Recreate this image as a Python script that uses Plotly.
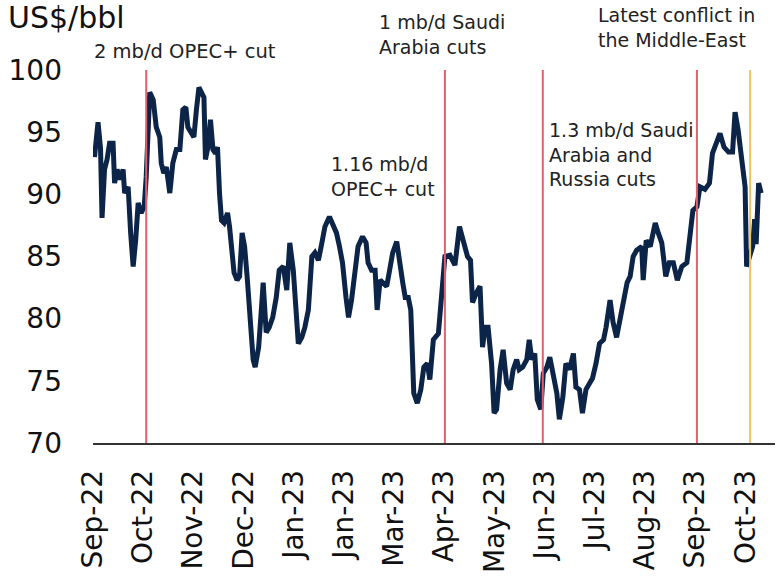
import plotly.graph_objects as go

# ---- data (x in months since Sep-22, y in US$/bbl) ----
x_month = [0.03, 0.10, 0.15, 0.18, 0.23, 0.28, 0.33, 0.40, 0.43, 0.48, 0.53, 0.60, 0.63, 0.70, 0.75,
           0.80, 0.85, 0.90, 0.96, 1.02, 1.06, 1.13, 1.20, 1.26, 1.33, 1.36, 1.41, 1.46, 1.53, 1.59,
           1.66, 1.73, 1.79, 1.85, 1.89, 1.96, 2.01, 2.06, 2.11, 2.16, 2.21, 2.24, 2.29, 2.34, 2.39,
           2.44, 2.48, 2.52, 2.56, 2.61, 2.68, 2.72, 2.77, 2.81, 2.87, 2.92, 2.97, 3.02, 3.07, 3.14,
           3.19, 3.23, 3.30, 3.35, 3.39, 3.45, 3.51, 3.58, 3.65, 3.71, 3.79, 3.86, 3.92, 3.99, 4.04,
           4.09, 4.16, 4.22, 4.29, 4.36, 4.42, 4.49, 4.56, 4.62, 4.71, 4.79, 4.85, 4.91, 4.97, 5.04,
           5.09, 5.15, 5.22, 5.28, 5.37, 5.44, 5.48, 5.55, 5.62, 5.66, 5.72, 5.78, 5.85, 5.90, 5.97,
           6.05, 6.10, 6.17, 6.22, 6.28, 6.33, 6.37, 6.39, 6.46, 6.53, 6.59, 6.66, 6.71, 6.78, 6.88,
           6.95, 7.01, 7.11, 7.21, 7.30, 7.38, 7.46, 7.52, 7.56, 7.64, 7.71, 7.76, 7.81, 7.87, 7.94,
           7.99, 8.04, 8.11, 8.17, 8.24, 8.31, 8.37, 8.44, 8.49, 8.56, 8.64, 8.69, 8.74, 8.80, 8.85,
           8.92, 8.97, 9.04, 9.10, 9.17, 9.24, 9.29, 9.36, 9.42, 9.49, 9.57, 9.62, 9.69, 9.75, 9.82,
           9.89, 9.95, 10.02, 10.09, 10.17, 10.22, 10.30, 10.36, 10.43, 10.52, 10.58, 10.64, 10.70,
           10.76, 10.83, 10.93, 10.96, 11.02, 11.10, 11.20, 11.26, 11.33, 11.41, 11.48, 11.56, 11.64,
           11.73, 11.83, 11.89, 11.95, 12.03, 12.09, 12.19, 12.28, 12.34, 12.41, 12.49, 12.57, 12.66,
           12.74, 12.79, 12.85, 12.92, 12.99, 13.02, 13.07, 13.14, 13.18, 13.21, 13.26, 13.31]

price = [93.0, 95.8, 93.7, 88.1, 92.0, 92.8, 94.1, 94.1, 90.9, 92.0, 91.2, 92.0, 90.1, 90.6, 86.9,
         84.2, 86.3, 89.3, 88.5, 89.0, 91.4, 98.2, 97.6, 95.4, 94.6, 92.5, 91.7, 92.2, 90.1, 92.5,
         93.6, 93.6, 96.8, 97.0, 95.4, 94.9, 94.6, 96.8, 98.6, 98.2, 97.8, 92.8, 93.8, 96.0, 93.6,
         93.3, 93.8, 90.1, 87.9, 87.7, 88.5, 87.4, 85.3, 83.7, 83.1, 83.4, 86.9, 85.8, 83.4, 80.0,
         76.7, 76.1, 77.7, 80.5, 82.9, 78.9, 79.3, 80.1, 81.7, 83.9, 84.2, 82.3, 86.1, 83.9, 80.7,
         78.0, 78.5, 79.3, 80.7, 85.0, 85.3, 84.7, 86.1, 87.4, 88.2, 87.3, 86.9, 85.8, 84.5, 81.7,
         80.1, 81.5, 83.7, 85.8, 86.6, 86.1, 84.5, 83.9, 83.9, 80.7, 83.1, 82.9, 82.6, 83.7, 85.3,
         86.2, 84.5, 82.9, 81.7, 81.7, 80.7, 76.9, 74.0, 73.2, 74.3, 76.1, 76.4, 75.1, 78.3, 78.8,
         82.6, 85.0, 85.1, 84.3, 87.4, 86.3, 85.0, 84.7, 81.3, 82.1, 82.6, 77.7, 79.3, 79.3, 76.4,
         72.4, 72.7, 75.9, 77.5, 74.8, 74.3, 75.9, 76.7, 75.9, 76.1, 76.7, 78.3, 76.7, 77.2, 73.5,
         72.7, 75.6, 76.1, 76.9, 75.6, 74.0, 71.9, 73.7, 76.4, 75.9, 77.2, 74.5, 74.3, 72.4, 74.3,
         74.8, 75.2, 76.4, 78.0, 78.3, 79.3, 81.5, 79.7, 78.5, 80.4, 81.5, 82.9, 83.4,
         85.0, 85.5, 85.8, 83.1, 86.3, 85.8, 87.7, 86.9, 86.1, 83.4, 84.5, 84.5, 83.1,
         84.2, 84.5, 86.6, 88.7, 89.0, 90.6, 90.4, 90.9, 93.3, 94.1, 94.9, 93.8, 93.4,
         93.4, 96.6, 95.2, 93.0, 90.6, 84.2, 85.0, 85.8, 88.0, 86.0, 90.9, 90.1]

tick_pos = list(range(14))
tick_labels = ["Sep-22", "Oct-22", "Nov-22", "Dec-22", "Jan-23", "Jan-23", "Mar-23",
               "Apr-23", "May-23", "Jun-23", "Jul-23", "Aug-23", "Sep-23", "Oct-23"]

event_x = [1.06, 7.01, 8.96, 12.03, 13.09]
event_colors = ["#e2606e", "#e2606e", "#e2606e", "#e2606e", "#f2c35c"]

FONT = "DejaVu Sans"
W, H = 776, 583
L, R, T, B = 93, 775, 70, 443


def px(xp):
    return (xp - L) / (R - L)


def py(yp):
    return (B - yp) / (B - T)


fig = go.Figure()
fig.add_trace(go.Scatter(x=x_month, y=price, mode="lines",
                         line=dict(color="#0b2447", width=5, shape="linear"),
                         hoverinfo="skip", showlegend=False))

for ex, col in zip(event_x, event_colors):
    fig.add_shape(type="line", xref="x", yref="y", x0=ex, x1=ex, y0=70, y1=100,
                  line=dict(color=col, width=2), layer="above")

annots = [
    ("US$/bbl", 6, 18, 30, "#111"),
    ("2 mb/d OPEC+ cut", 92, 52, 19.5, "#222"),
    ("1 mb/d Saudi<br>Arabia cuts", 377, 35, 19, "#222"),
    ("Latest conflict in<br>the Middle-East", 596, 28, 19, "#222"),
    ("1.16 mb/d<br>OPEC+ cut", 329, 176, 19, "#222"),
    ("1.3 mb/d Saudi<br>Arabia and<br>Russia cuts", 547, 154, 19, "#222"),
]
for txt, ax_, ay_, fs, col in annots:
    fig.add_annotation(text=txt, xref="paper", yref="paper", x=px(ax_), y=py(ay_),
                       xanchor="left", yanchor="middle", showarrow=False, align="left",
                       font=dict(family=FONT, size=fs, color=col))

fig.update_layout(
    width=W, height=H,
    margin=dict(l=L, r=W - R, t=T, b=H - B),
    paper_bgcolor="white", plot_bgcolor="white",
    font=dict(family=FONT, color="#111"),
    xaxis=dict(range=[0, (R - L) / 50.2], tickmode="array", tickvals=tick_pos,
               ticktext=tick_labels, tickangle=-90, tickfont=dict(size=28, color="#111"),
               showgrid=False, zeroline=False, showline=True, linecolor="#333",
               linewidth=1.5, ticks="", ticklabelstandoff=14, automargin=False),
    yaxis=dict(range=[70, 100], tickmode="array", tickvals=[70, 75, 80, 85, 90, 95, 100],
               tickfont=dict(size=28, color="#111"), showgrid=False, zeroline=False,
               showline=False, ticks="", ticklabelstandoff=30, automargin=False),
)

fig.write_html("out.html", config={"displayModeBar": False},
               post_script="document.body.style.margin='0';document.body.style.overflow='hidden';")
